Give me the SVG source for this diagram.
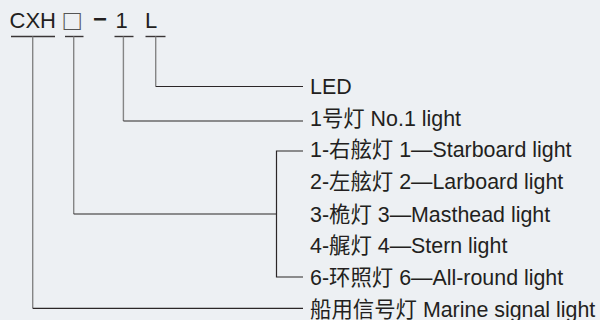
<svg xmlns="http://www.w3.org/2000/svg" width="600" height="320" viewBox="0 0 600 320">
<style>
.t{font-family:"Liberation Sans","Noto Sans CJK SC",Arial,sans-serif;font-size:21.4px;fill:#231f20}
.top{font-size:22px}
.v{stroke:#858585;stroke-width:1.4;fill:none}
.h{stroke:#2b2627;stroke-width:1.2;fill:none}
.u{stroke:#3a3536;stroke-width:1.4;fill:none}
</style>
<rect width="600" height="320" fill="#edf0f3"/>
<g id="code-cxh"><text class="t top" x="9.5" y="28">CXH</text><line class="u" x1="11" y1="36.5" x2="55" y2="36.5"/></g>
<g id="code-box"><text class="t" x="63.5" y="30.4" style="font-size:29px;fill:#555">□</text><line class="u" x1="65" y1="36.5" x2="83.5" y2="36.5"/></g>
<g id="code-dash"><text class="t" x="93" y="26.9" style="font-size:24px;font-weight:bold">−</text></g>
<g id="code-1"><text class="t top" x="115.5" y="28">1</text><line class="u" x1="114.5" y1="36.5" x2="133.5" y2="36.5"/></g>
<g id="code-L"><text class="t top" x="145" y="28">L</text><line class="u" x1="145.5" y1="36.5" x2="165.5" y2="36.5"/></g>
<g id="connectors">
<line class="v" x1="155.7" y1="36.5" x2="155.7" y2="86.5"/>
<line class="h" x1="155.7" y1="86.5" x2="303" y2="86.5"/>
<line class="v" x1="123.4" y1="36.5" x2="123.4" y2="121"/>
<line class="h" x1="123.4" y1="121" x2="303" y2="121"/>
<line class="v" x1="73.7" y1="36.5" x2="73.7" y2="214"/>
<line class="h" x1="73.7" y1="214" x2="276.5" y2="214"/>
<polyline class="h" points="303,151 276.5,151 276.5,277 303,277"/>
<line class="v" x1="32.7" y1="36.5" x2="32.7" y2="308.3"/>
<line class="h" x1="32.7" y1="308.3" x2="303" y2="308.3"/>
</g>
<g id="label-led"><text class="t" x="310" y="94.3">LED</text></g>
<g id="label-no1"><text class="t" x="310" y="125.5">1号灯 No.1 light</text></g>
<g id="label-starboard"><text class="t" x="310" y="157.3">1-右舷灯 1—Starboard light</text></g>
<g id="label-larboard"><text class="t" x="310" y="189">2-左舷灯 2—Larboard light</text></g>
<g id="label-masthead"><text class="t" x="310" y="221.5">3-桅灯 3—Masthead light</text></g>
<g id="label-stern"><text class="t" x="310" y="253.3">4-艉灯 4—Stern light</text></g>
<g id="label-allround"><text class="t" x="310" y="285">6-环照灯 6—All-round light</text></g>
<g id="label-marine"><text class="t" x="310" y="316.5">船用信号灯 Marine signal light</text></g>
</svg>
